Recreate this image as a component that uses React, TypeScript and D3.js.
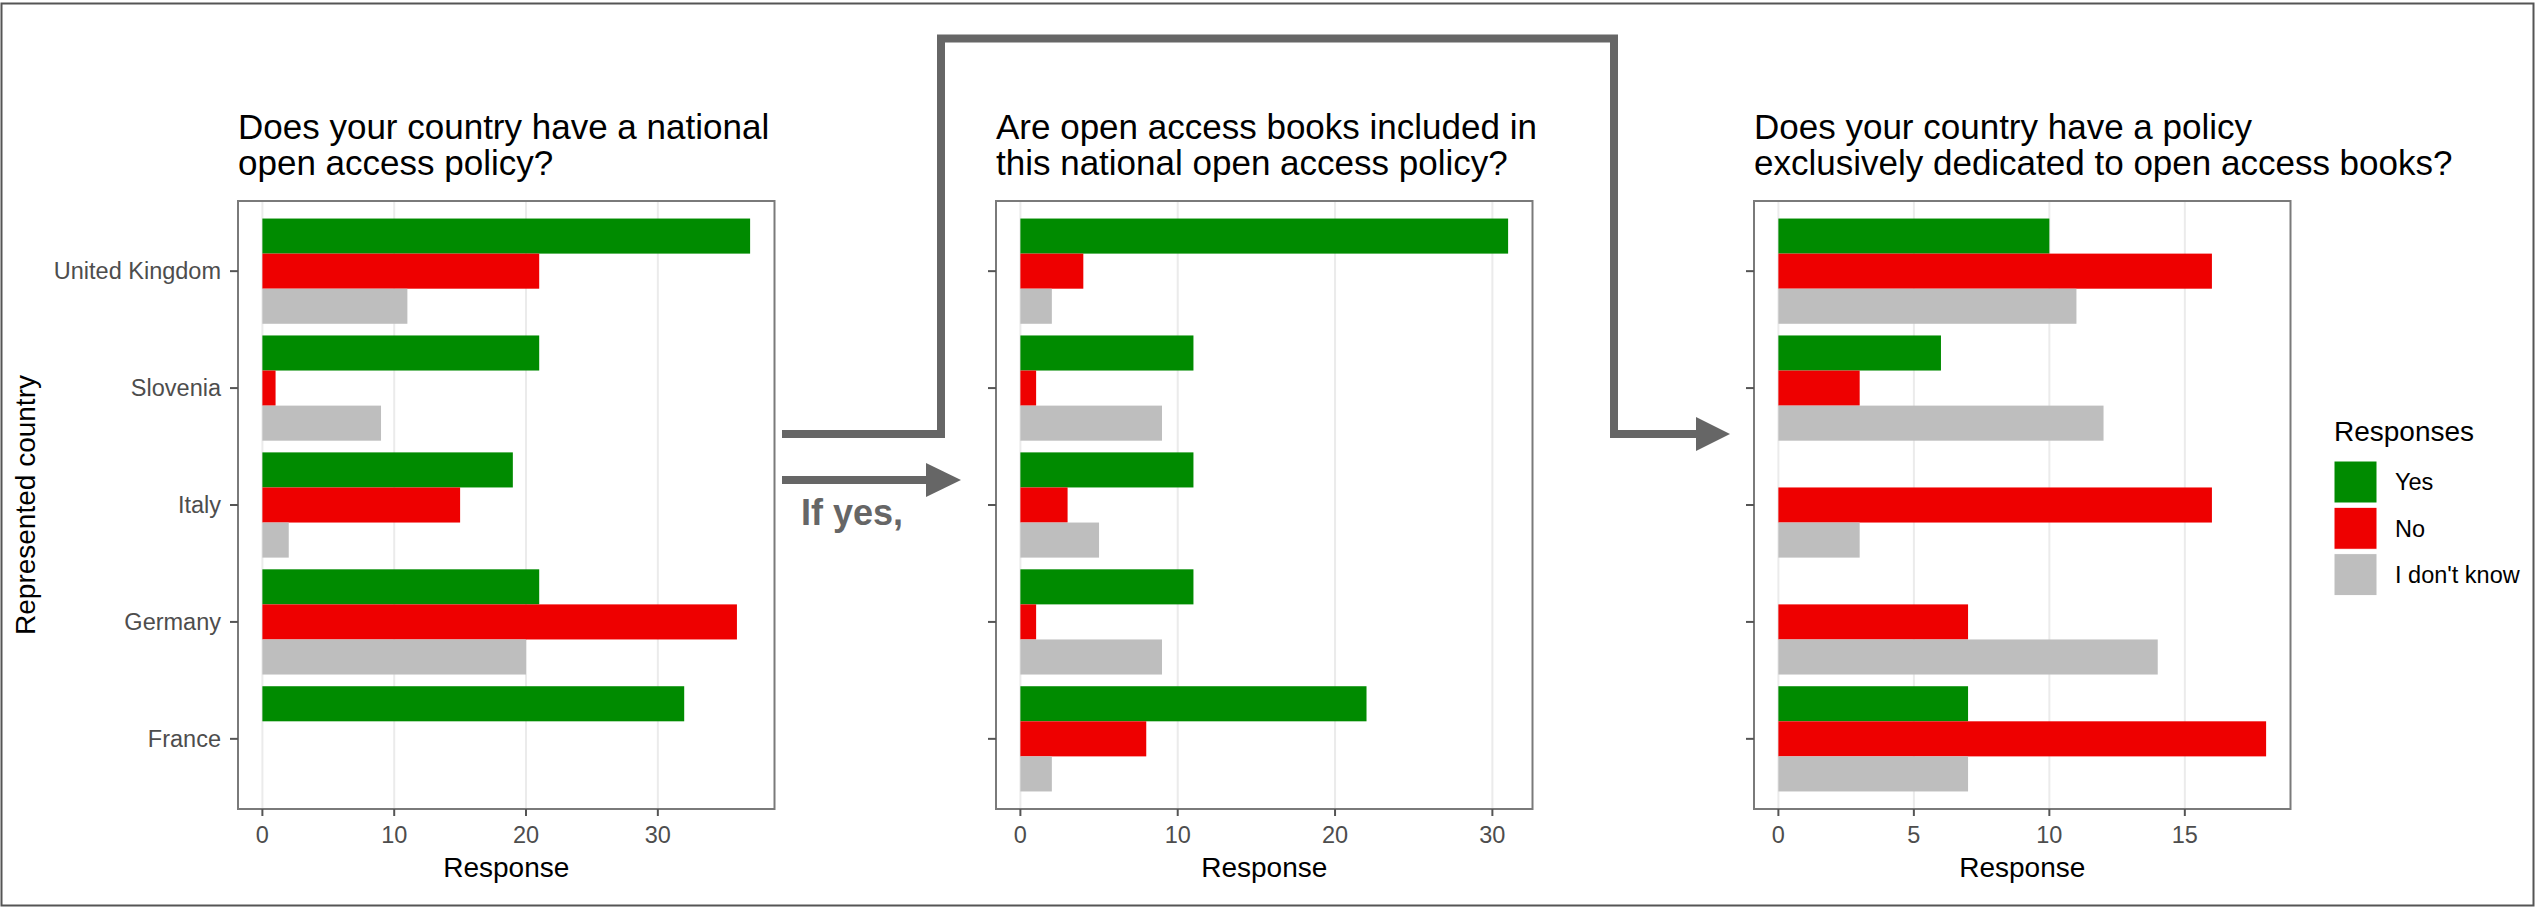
import React from 'react';
import * as d3 from 'd3';

// ---------- data ----------
const countries = ['United Kingdom', 'Slovenia', 'Italy', 'Germany', 'France'];
const responses = ['Yes', 'No', "I don't know"];
const responseColors = ['#008B00', '#EE0000', '#BEBEBE'];

// Panel 1: Does your country have a national open access policy?
const nationalYes = [37, 21, 19, 21, 32];
const nationalNo = [21, 1, 15, 36, 0];
const nationalIdk = [11, 9, 2, 20, 0];

// Panel 2: Are open access books included in this national open access policy?
const booksYes = [31, 11, 11, 11, 22];
const booksNo = [4, 1, 3, 1, 8];
const booksIdk = [2, 9, 5, 9, 2];

// Panel 3: Does your country have a policy exclusively dedicated to open access books?
const exclusiveYes = [10, 6, 0, 0, 7];
const exclusiveNo = [16, 3, 16, 7, 18];
const exclusiveIdk = [11, 12, 3, 14, 7];

const ticks12 = [0, 10, 20, 30];
const ticks3 = [0, 5, 10, 15];

const titles = [
  ['Does your country have a national', 'open access policy?'],
  ['Are open access books included in', 'this national open access policy?'],
  ['Does your country have a policy', 'exclusively dedicated to open access books?'],
];

// ---------- layout ----------
const W = 2536;
const H = 908;
const FONT = '"Liberation Sans", Arial, Helvetica, sans-serif';
const panelTop = 201;
const panelBottom = 809;
const panelW = 536.5;
const panelLefts = [238, 996, 1754];
const ARROW = '#666666';

type PanelSpec = {
  left: number;
  series: number[][];
  ticks: number[];
  title: string[];
  showLabels: boolean;
};

const panels: PanelSpec[] = [
  { left: panelLefts[0], series: [nationalYes, nationalNo, nationalIdk], ticks: ticks12, title: titles[0], showLabels: true },
  { left: panelLefts[1], series: [booksYes, booksNo, booksIdk], ticks: ticks12, title: titles[1], showLabels: false },
  { left: panelLefts[2], series: [exclusiveYes, exclusiveNo, exclusiveIdk], ticks: ticks3, title: titles[2], showLabels: false },
];

function Panel({ spec }: { spec: PanelSpec }) {
  const maxV = d3.max(spec.series.flat()) as number;
  const x = d3
    .scaleLinear()
    .domain([-0.05 * maxV, maxV * 1.05])
    .range([spec.left, spec.left + panelW]);
  const y = d3.scalePoint<string>().domain(countries).range([panelTop, panelBottom]).padding(0.6);
  const step = y.step();
  const sub = d3
    .scaleBand<string>()
    .domain(responses)
    .range([-0.45 * step, 0.45 * step])
    .padding(0);

  return (
    <g>
      {/* title */}
      <text x={spec.left} y={139} fontSize={35} fontFamily={FONT} fill="#000">
        {spec.title[0]}
      </text>
      <text x={spec.left} y={175} fontSize={35} fontFamily={FONT} fill="#000">
        {spec.title[1]}
      </text>
      {/* background */}
      <rect x={spec.left} y={panelTop} width={panelW} height={panelBottom - panelTop} fill="#fff" />
      {/* grid */}
      {spec.ticks.map((t) => (
        <line key={'g' + t} x1={x(t)} x2={x(t)} y1={panelTop} y2={panelBottom} stroke="#EBEBEB" strokeWidth={2} />
      ))}
      {/* bars */}
      {spec.series.map((vals, si) =>
        vals.map((v, ci) =>
          v > 0 ? (
            <rect
              key={`b${si}-${ci}`}
              x={x(0)}
              y={(y(countries[ci]) as number) + (sub(responses[si]) as number)}
              width={x(v) - x(0)}
              height={sub.bandwidth()}
              fill={responseColors[si]}
            />
          ) : null
        )
      )}
      {/* border */}
      <rect
        x={spec.left}
        y={panelTop}
        width={panelW}
        height={panelBottom - panelTop}
        fill="none"
        stroke="#7A7A7A"
        strokeWidth={2}
      />
      {/* x ticks */}
      {spec.ticks.map((t) => (
        <g key={'t' + t}>
          <line x1={x(t)} x2={x(t)} y1={panelBottom} y2={panelBottom + 7} stroke="#555" strokeWidth={2} />
          <text x={x(t)} y={843} textAnchor="middle" fontSize={23.5} fontFamily={FONT} fill="#4D4D4D">
            {t}
          </text>
        </g>
      ))}
      <text x={spec.left + panelW / 2} y={877} textAnchor="middle" fontSize={28} fontFamily={FONT} fill="#000">
        Response
      </text>
      {/* y ticks */}
      {countries.map((c) => (
        <g key={'y' + c}>
          <line
            x1={spec.left - 8}
            x2={spec.left}
            y1={y(c) as number}
            y2={y(c) as number}
            stroke="#555"
            strokeWidth={2}
          />
          {spec.showLabels ? (
            <text
              x={spec.left - 17}
              y={y(c) as number}
              dy="0.35em"
              textAnchor="end"
              fontSize={23.5}
              fontFamily={FONT}
              fill="#4D4D4D"
            >
              {c}
            </text>
          ) : null}
        </g>
      ))}
    </g>
  );
}

function Arrowhead({ baseX, tipX, cy }: { baseX: number; tipX: number; cy: number }) {
  return <path d={`M${baseX},${cy - 17} L${tipX},${cy} L${baseX},${cy + 17} Z`} fill={ARROW} />;
}

export default function App() {
  const legendX = 2334;
  const keyTop = 461;
  const keyPitch = 46.3;
  return (
    <svg
      width={W}
      height={H}
      viewBox={`0 0 ${W} ${H}`}
      style={{ position: 'absolute', left: 0, top: 0, display: 'block', background: '#fff' }}
    >
      <rect x={0} y={0} width={W} height={H} fill="#fff" />
      {/* outer frame */}
      <rect x={1.5} y={3.5} width={W - 4} height={H - 6} fill="none" stroke="#555" strokeWidth={2} />

      {/* y axis title */}
      <text
        transform={`translate(35, ${(panelTop + panelBottom) / 2}) rotate(-90)`}
        textAnchor="middle"
        fontSize={28}
        fontFamily={FONT}
        fill="#000"
      >
        Represented country
      </text>

      {panels.map((p, i) => (
        <Panel key={i} spec={p} />
      ))}

      {/* elbow arrow */}
      <path
        d="M782,434 L941,434 L941,38.5 L1614,38.5 L1614,434 L1698,434"
        fill="none"
        stroke={ARROW}
        strokeWidth={8}
        strokeLinejoin="miter"
      />
      <Arrowhead baseX={1696} tipX={1730} cy={434} />

      {/* straight arrow */}
      <line x1={782} x2={928} y1={480} y2={480} stroke={ARROW} strokeWidth={8} />
      <Arrowhead baseX={926} tipX={961} cy={480} />
      <text x={801} y={525} fontSize={36} fontWeight="bold" fontFamily={FONT} fill={ARROW}>
        If yes,
      </text>

      {/* legend */}
      <text x={legendX} y={441} fontSize={28} fontFamily={FONT} fill="#000">
        Responses
      </text>
      {responses.map((r, i) => (
        <g key={r}>
          <rect
            x={legendX}
            y={keyTop + i * keyPitch}
            width={43}
            height={42}
            fill={responseColors[i]}
            stroke="#fff"
            strokeWidth={1}
          />
          <text
            x={2395}
            y={keyTop + i * keyPitch + 21}
            dy="0.35em"
            fontSize={23.5}
            fontFamily={FONT}
            fill="#000"
          >
            {r}
          </text>
        </g>
      ))}
    </svg>
  );
}
